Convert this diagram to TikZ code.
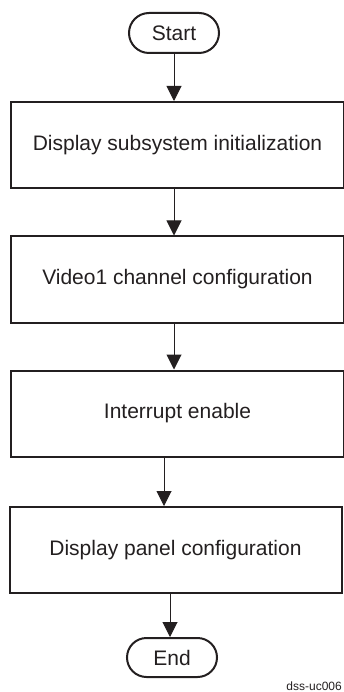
\documentclass[tikz,border=0pt]{standalone}
\usepackage{fontspec}
\setmainfont{Liberation Sans}
\usetikzlibrary{arrows.meta,shapes.misc}
\definecolor{ink}{HTML}{231F20}
\begin{document}
\begin{tikzpicture}[x=1pt,y=-1pt,
  every node/.style={text=ink},
  term/.style={draw=ink,line width=2pt,rounded rectangle,minimum width=90pt,minimum height=40pt,inner sep=0pt,font=\fontsize{21}{25}\selectfont},
  procbox/.style={draw=ink,line width=2pt,rectangle,minimum height=86pt,inner sep=0pt,font=\fontsize{21}{25}\selectfont},
  arr/.style={draw=ink,line width=1pt,-{Triangle[length=15pt,width=15pt]}}]
\useasboundingbox (0,0) rectangle (343,692);
\node[term] (start) at (174,33) {Start};
\node[procbox,minimum width=333pt] (b1) at (177.5,145) {Display subsystem initialization};
\node[procbox,minimum width=333pt] (b2) at (177.5,279.5) {Video1 channel configuration};
\node[procbox,minimum width=333pt] (b3) at (177.5,413.5) {Interrupt enable};
\node[procbox,minimum width=332pt] (b4) at (175.5,550) {Display panel configuration};
\node[term,minimum height=39pt] (end) at (172,657.5) {End};
\node[anchor=base east,inner sep=0pt,font=\fontsize{12}{14}\selectfont] (tag) at (342,690) {dss-uc006};
\draw[arr] (start.south -| 174,0) -- (b1.north -| 174,0);
\draw[arr] (b1.south -| 174,0) -- (b2.north -| 174,0);
\draw[arr] (b2.south -| 174,0) -- (b3.north -| 174,0);
\draw[arr] (b3.south -| 164,0) -- (b4.north -| 164,0);
\draw[arr] (b4.south -| 170,0) -- (end.north -| 170,0);
\end{tikzpicture}
\end{document}
